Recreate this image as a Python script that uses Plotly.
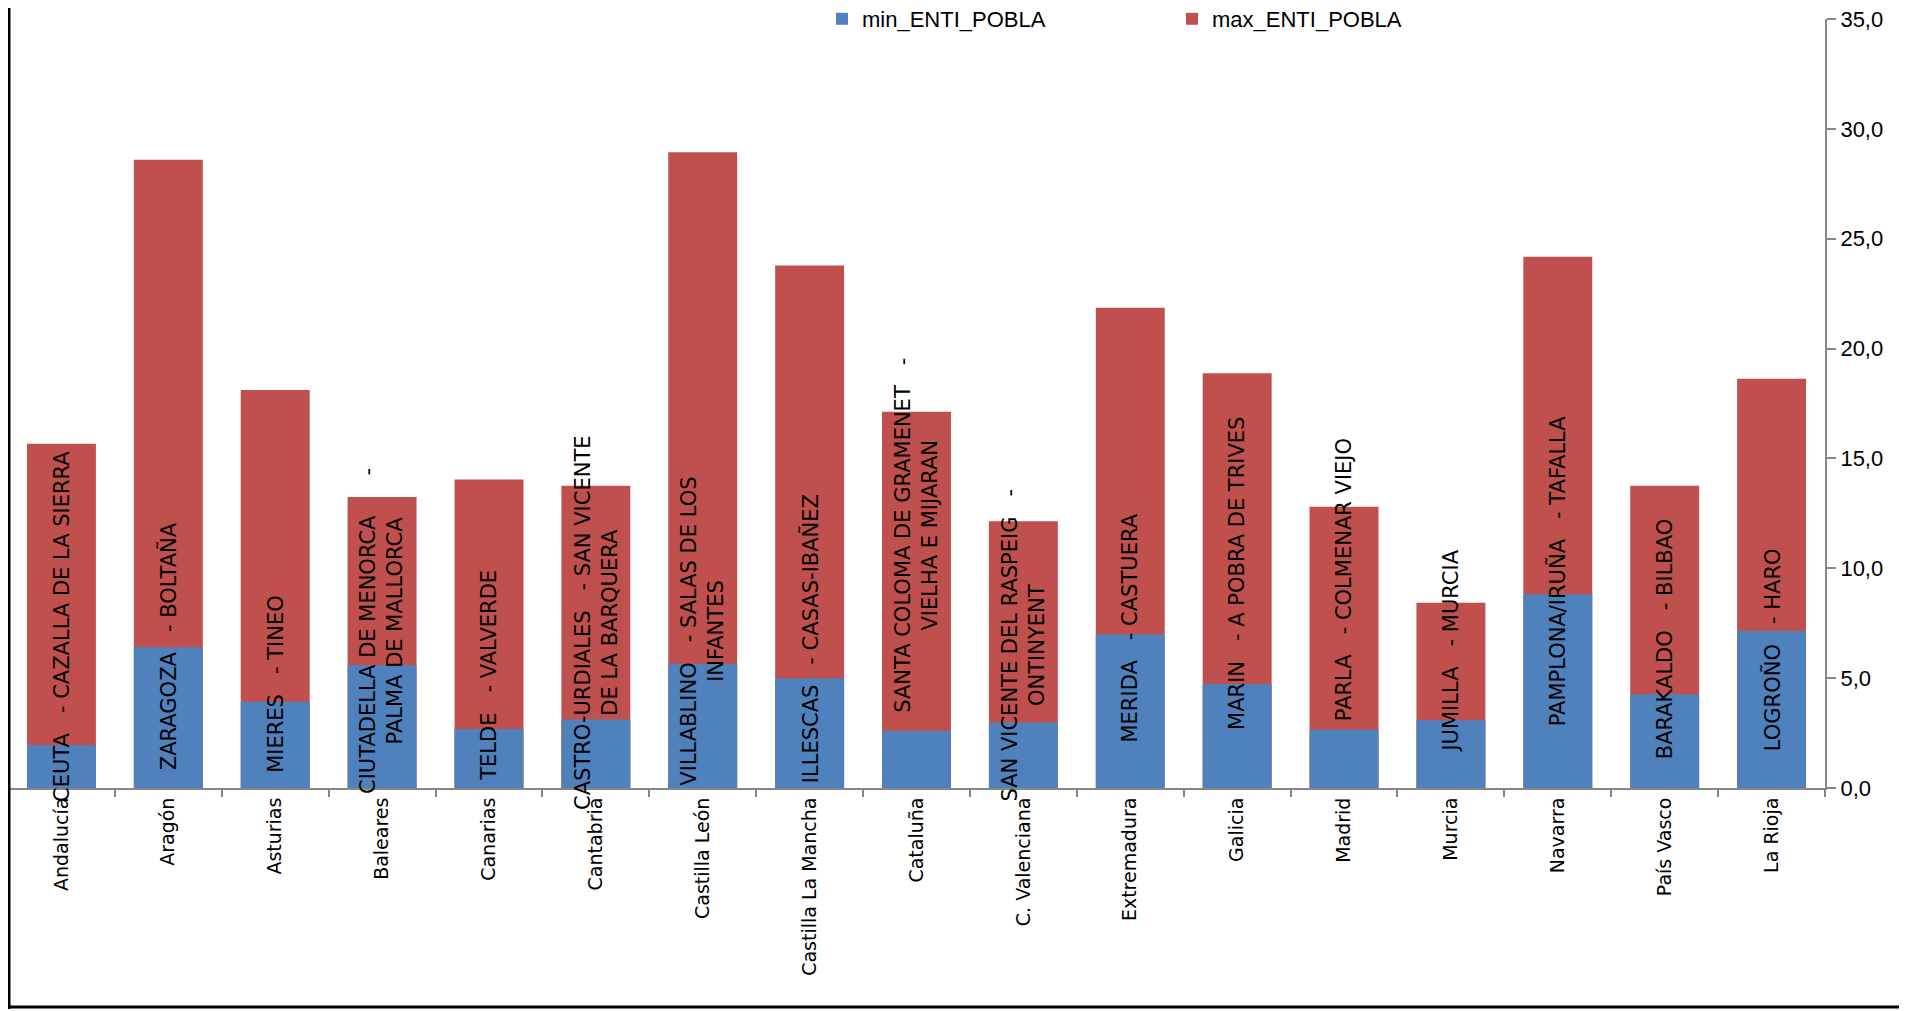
import plotly.graph_objects as go

# ---------------- data ----------------
regions = ["Andalucía", "Aragón", "Asturias", "Baleares", "Canarias", "Cantabria",
           "Castilla León", "Castilla La Mancha", "Cataluña", "C. Valenciana",
           "Extremadura", "Galicia", "Madrid", "Murcia", "Navarra", "País Vasco",
           "La Rioja"]

min_enti_pobla = [1.96, 6.41, 3.92, 5.59, 2.69, 3.12, 5.65, 5.00, 2.59, 2.98,
                  7.00, 4.73, 2.65, 3.08, 8.82, 4.27, 7.14]

max_enti_pobla = [15.67, 28.59, 18.12, 13.24, 14.04, 13.76, 28.94, 23.78, 17.12,
                  12.14, 21.86, 18.88, 12.80, 8.43, 24.18, 13.76, 18.63]

S3 = "\u00a0\u00a0\u00a0"
S6 = "\u00a0" * 6
pair_labels = [
    "CEUTA" + S3 + "- CAZALLA DE LA SIERRA",
    "ZARAGOZA" + S3 + "- BOLTAÑA",
    "MIERES" + S3 + "- TINEO",
    "CIUTADELLA DE MENORCA" + S6 + "-<br>PALMA DE MALLORCA",
    "TELDE" + S3 + "- VALVERDE",
    "CASTRO-URDIALES" + S3 + "- SAN VICENTE<br>DE LA BARQUERA",
    "VILLABLINO" + S3 + "- SALAS DE LOS<br>INFANTES",
    "ILLESCAS" + S3 + "- CASAS-IBAÑEZ",
    "SANTA COLOMA DE GRAMENET" + S3 + "-<br>VIELHA E MIJARAN",
    "SAN VICENTE DEL RASPEIG" + S3 + "-<br>ONTINYENT",
    "MERIDA" + S3 + "- CASTUERA",
    "MARIN" + S3 + "- A POBRA DE TRIVES",
    "PARLA" + S3 + "- COLMENAR VIEJO",
    "JUMILLA" + S3 + "- MURCIA",
    "PAMPLONA/IRUÑA" + S3 + "- TAFALLA",
    "BARAKALDO" + S3 + "- BILBAO",
    "LOGROÑO" + S3 + "- HARO",
]

y_ticks = [0, 5, 10, 15, 20, 25, 30, 35]

# ---------------- styling / layout ----------------
BLUE = "#4F81BD"
RED = "#C0504D"
AXIS = "#868686"

# vertical centre of each rotated data label (axis units)
label_mid = [7.35, 6.47, 4.75, 7.15, 5.15, 7.55, 7.15, 6.8, 11.5, 6.5,
             7.27, 9.75, 9.46, 6.25, 9.9, 6.8, 6.3]

# the page body adds an 8px offset; work in screen pixels and convert
OFF = 8
SW, SH = 1907, 1011
W, H = SW - OFF, SH - OFF
PL, PR, PT, PB = 8, 1825, 19, 788          # plot area in screen px
ML, MR, MT, MB = PL - OFF, W - (PR - OFF), PT - OFF, H - (PB - OFF)
PW = W - ML - MR
PH = H - MT - MB

fig = go.Figure()
fig.add_trace(go.Bar(x=regions, y=max_enti_pobla, name="max_ENTI_POBLA",
                     marker=dict(color=RED, line=dict(width=0)), legend="legend2"))
fig.add_trace(go.Bar(x=regions, y=min_enti_pobla, name="min_ENTI_POBLA",
                     marker=dict(color=BLUE, line=dict(width=0)), legend="legend"))

annotations = []
for r, txt, ym in zip(regions, pair_labels, label_mid):
    annotations.append(dict(x=r, y=ym, xref="x", yref="y", text=txt, textangle=-90,
                            showarrow=False, xanchor="center", yanchor="middle",
                            align="center",
                            font=dict(family="DejaVu Sans", size=21, color="#000000")))


def px_x(sx):
    return (sx - PL) / PW


def px_y(sy):
    return (PB - sy) / PH


shapes = [
    dict(type="line", xref="paper", yref="paper", x0=px_x(9), x1=px_x(9),
         y0=px_y(1009), y1=px_y(0), line=dict(color="#000000", width=3)),
    dict(type="line", xref="paper", yref="paper", x0=px_x(8), x1=px_x(1910),
         y0=px_y(1007), y1=px_y(1007), line=dict(color="#000000", width=3)),
]

legend_font = dict(family="Liberation Sans", size=22, color="#000000")

fig.update_layout(
    width=W, height=H,
    margin=dict(l=ML, r=MR, t=MT, b=MB, autoexpand=False),
    paper_bgcolor="white", plot_bgcolor="white",
    barmode="overlay", bargap=0.355,
    separators=", ",
    showlegend=True,
    legend=dict(orientation="h", x=px_x(822), xanchor="left", y=px_y(19), yanchor="middle",
                font=legend_font, bgcolor="rgba(0,0,0,0)", borderwidth=0),
    legend2=dict(orientation="h", x=px_x(1172), xanchor="left", y=px_y(19), yanchor="middle",
                 font=legend_font, bgcolor="rgba(0,0,0,0)", borderwidth=0),
    xaxis=dict(type="category", showgrid=False, zeroline=False,
               showline=True, linecolor=AXIS, linewidth=2,
               ticks="outside", tickson="boundaries", ticklen=7, tickcolor=AXIS, tickwidth=1.5,
               tickangle=-90, automargin=False,
               tickfont=dict(family="DejaVu Sans", size=19, color="#000000")),
    yaxis=dict(side="right", range=[0, 35], tickvals=y_ticks, tickformat=".1f",
               showgrid=False, zeroline=False, showline=True, linecolor=AXIS, linewidth=2,
               ticks="outside", ticklen=9, tickcolor=AXIS, tickwidth=1.5, automargin=False,
               ticklabeloverflow="allow",
               tickfont=dict(family="Liberation Sans", size=22, color="#000000")),
    annotations=annotations,
    shapes=shapes,
)

fig.write_html("out.html")
